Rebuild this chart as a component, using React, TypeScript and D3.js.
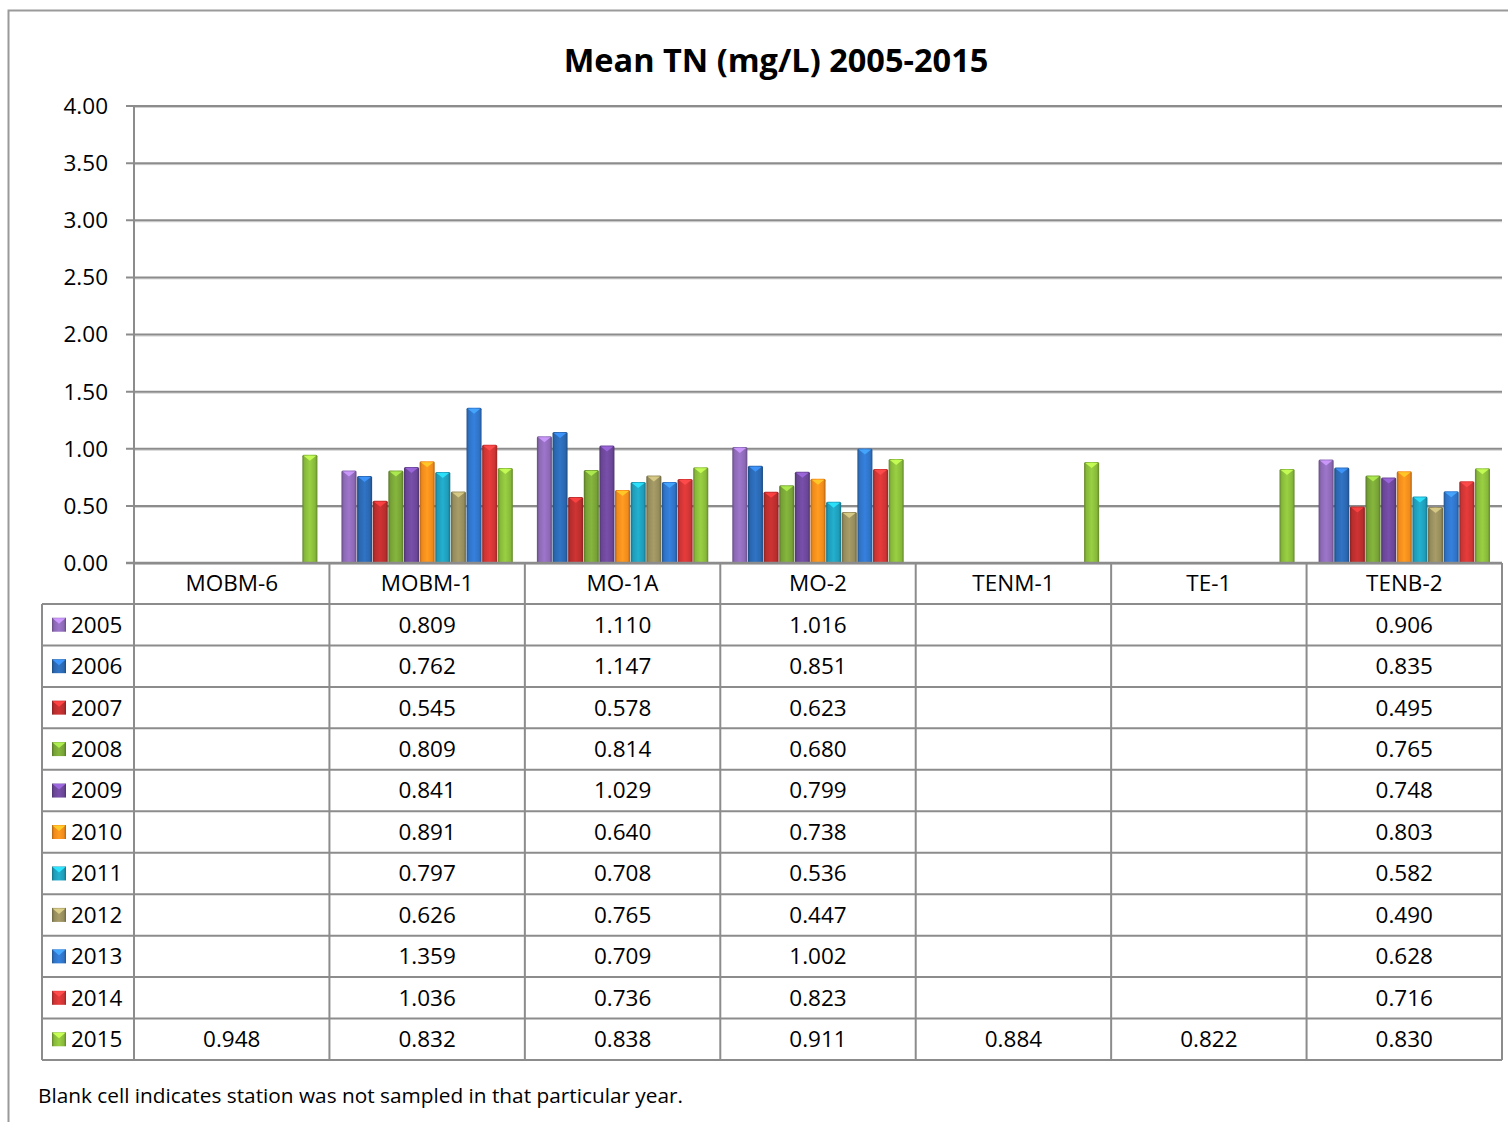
import React from "react";
import * as d3 from "d3";

const stations = ["MOBM-6", "MOBM-1", "MO-1A", "MO-2", "TENM-1", "TE-1", "TENB-2"];
const years = ["2005", "2006", "2007", "2008", "2009", "2010", "2011", "2012", "2013", "2014", "2015"];
const v2005 = [null, 0.809, 1.11, 1.016, null, null, 0.906];
const v2006 = [null, 0.762, 1.147, 0.851, null, null, 0.835];
const v2007 = [null, 0.545, 0.578, 0.623, null, null, 0.495];
const v2008 = [null, 0.809, 0.814, 0.68, null, null, 0.765];
const v2009 = [null, 0.841, 1.029, 0.799, null, null, 0.748];
const v2010 = [null, 0.891, 0.64, 0.738, null, null, 0.803];
const v2011 = [null, 0.797, 0.708, 0.536, null, null, 0.582];
const v2012 = [null, 0.626, 0.765, 0.447, null, null, 0.49];
const v2013 = [null, 1.359, 0.709, 1.002, null, null, 0.628];
const v2014 = [null, 1.036, 0.736, 0.823, null, null, 0.716];
const v2015 = [0.948, 0.832, 0.838, 0.911, 0.884, 0.822, 0.83];
const seriesValues: (number | null)[][] = [v2005, v2006, v2007, v2008, v2009, v2010, v2011, v2012, v2013, v2014, v2015];
const yTicks = [0, 0.5, 1, 1.5, 2, 2.5, 3, 3.5, 4];
const colors = ["#8b68b3", "#2a66ae", "#b72d2d", "#76a136", "#6a4696", "#f08a1c", "#1f9bb7", "#948b5c", "#2f72c4", "#cc3434", "#87b83a"];
const title = "Mean TN (mg/L) 2005-2015";
const footnote = "Blank cell indicates station was not sampled in that particular year.";

const FONT = "'Open Sans', 'DejaVu Sans', sans-serif";

export default function App() {
  const left = 134, right = 1502, top = 106, bottom = 563;
  const tableLeft = 42;
  const headerBottom = 604;
  const tableBottom = 1060;
  const x = d3.scaleBand<string>().domain(stations).range([left, right]).padding(0);
  const bw = x.bandwidth();
  const barW = bw / 12.5;
  const xi = d3.scaleBand<string>().domain(years).range([barW * 0.75, bw - barW * 0.75]).padding(0);
  const y = d3.scaleLinear().domain([0, 4]).range([bottom, top]);
  const rowH = (tableBottom - headerBottom) / years.length;
  const fmtY = d3.format(".2f");
  const fmtV = d3.format(".3f");
  const gridColor = "#8c8c8c";
  const tableColor = "#8c8c8c";
  const fs = 22.5;

  return (
    <svg width={1508} height={1122} style={{ position: "absolute", left: 0, top: 0, background: "#fff" }} fontFamily={FONT}>
      <defs>
        {colors.map((c, i) => {
          const dark = d3.color(c)!.darker(0.9).formatHex();
          const light = d3.color(c)!.brighter(0.35).formatHex();
          return (
            <linearGradient key={i} id={`g${i}`} x1="0" x2="1" y1="0" y2="0">
              <stop offset="0" stopColor={dark} />
              <stop offset="0.15" stopColor={c} />
              <stop offset="0.5" stopColor={light} />
              <stop offset="0.85" stopColor={c} />
              <stop offset="1" stopColor={dark} />
            </linearGradient>
          );
        })}
      </defs>
      {/* outer border */}
      <rect x={8.5} y={10.5} width={1520} height={1130} fill="none" stroke="#9a9a9a" strokeWidth={2} />
      {/* title */}
      <text x={776} y={72} textAnchor="middle" fontSize={32.5} fontWeight="bold" fill="#000">{title}</text>
      {/* gridlines */}
      {yTicks.map((t) => (
        <g key={t}>
          <line x1={left} x2={right} y1={y(t) + 1.5} y2={y(t) + 1.5} stroke="#d0d0d0" strokeWidth={1} />
          <line x1={126} x2={right} y1={y(t)} y2={y(t)} stroke={gridColor} strokeWidth={2} />
          <text x={108} y={y(t)} dy="0.35em" textAnchor="end" fontSize={fs} fill="#000">{fmtY(t)}</text>
        </g>
      ))}
      {/* y axis line */}
      <line x1={left} x2={left} y1={top} y2={bottom} stroke={gridColor} strokeWidth={2} />
      {/* bars */}
      {stations.map((s, si) => (
        <g key={s} transform={`translate(${x(s)},0)`}>
          {years.map((yr, yi) => {
            const v = seriesValues[yi][si];
            if (v == null) return null;
            const bx = xi(yr)!;
            const w = xi.bandwidth() - 0.6;
            const by = y(v);
            const h = y(0) - by;
            const light = d3.color(colors[yi])!.brighter(1.1).formatHex();
            return (
              <g key={yr}>
                <rect x={bx + 0.3} y={by} width={w} height={h} fill={`url(#g${yi})`} rx={1.5} />
                <path d={`M${bx + 1.5},${by + 1} L${bx + w - 0.9},${by + 1} L${bx + 0.3 + w / 2},${by + 6} Z`} fill={light} opacity={0.9} />
              </g>
            );
          })}
        </g>
      ))}
      {/* category axis baseline */}
      <line x1={126} x2={right} y1={bottom} y2={bottom} stroke={gridColor} strokeWidth={2.5} />
      {/* table grid */}
      <g stroke={tableColor} strokeWidth={2} fill="none">
        {stations.map((s) => (
          <line key={s} x1={x(s)!} x2={x(s)!} y1={bottom} y2={tableBottom} />
        ))}
        <line x1={right} x2={right} y1={bottom} y2={tableBottom} />
        <line x1={tableLeft} x2={tableLeft} y1={headerBottom} y2={tableBottom} />
        {d3.range(years.length + 1).map((r) => (
          <line key={r} x1={tableLeft} x2={right} y1={headerBottom + r * rowH} y2={headerBottom + r * rowH} />
        ))}
      </g>
      {/* header labels */}
      {stations.map((s) => (
        <text key={s} x={x(s)! + bw / 2} y={(bottom + headerBottom) / 2} dy="0.35em" textAnchor="middle" fontSize={fs} fill="#000">{s}</text>
      ))}
      {/* rows */}
      {years.map((yr, yi) => {
        const cy = headerBottom + rowH * (yi + 0.5);
        const light = d3.color(colors[yi])!.brighter(1.1).formatHex();
        return (
          <g key={yr}>
            <rect x={52} y={cy - 7} width={14} height={14} fill={`url(#g${yi})`} />
            <path d={`M52.5,${cy - 6.5} L65.5,${cy - 6.5} L59,${cy - 1} Z`} fill={light} />
            <text x={71} y={cy} dy="0.35em" fontSize={fs} fill="#000">{yr}</text>
            {stations.map((s, si) => {
              const v = seriesValues[yi][si];
              if (v == null) return null;
              return (
                <text key={s} x={x(s)! + bw / 2} y={cy} dy="0.35em" textAnchor="middle" fontSize={fs} fill="#000">{fmtV(v)}</text>
              );
            })}
          </g>
        );
      })}
      <text x={38} y={1096} dy="0.35em" fontSize={20.8} fill="#000">{footnote}</text>
    </svg>
  );
}
